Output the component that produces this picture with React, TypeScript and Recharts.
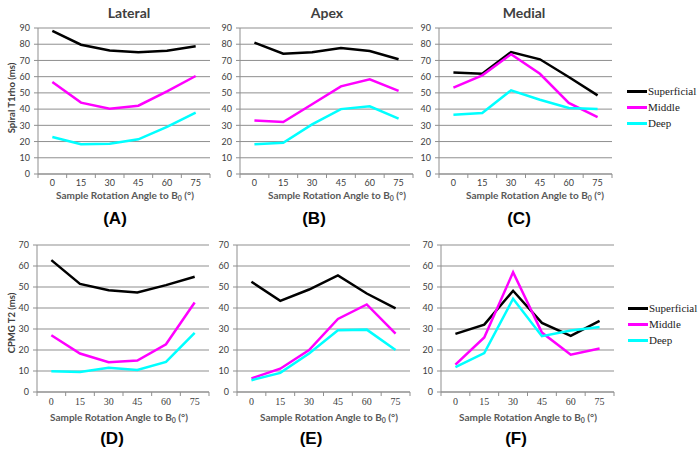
import React from 'react';
import { LineChart, Line, XAxis, YAxis, CartesianGrid } from 'recharts';

const angles = ['0', '15', '30', '45', '60', '75'];
const seriesNames = ['Superficial', 'Middle', 'Deep'];
const seriesColors = ['#000000', '#ff00ff', '#00ffff'];

const t1Ticks = [0, 10, 20, 30, 40, 50, 60, 70, 80, 90];
const t2Ticks = [0, 10, 20, 30, 40, 50, 60, 70];

// Spiral T1rho (ms)
const lateralT1Sup = [88.3, 79.7, 76.2, 75.0, 76.0, 78.7];
const lateralT1Mid = [56.7, 44.0, 40.3, 42.1, 51.0, 60.4];
const lateralT1Deep = [22.8, 18.3, 18.7, 21.4, 29.0, 37.8];

const apexT1Sup = [81.0, 74.2, 75.0, 77.7, 75.8, 70.7];
const apexT1Mid = [33.0, 32.0, 43.0, 54.0, 58.4, 51.2];
const apexT1Deep = [18.3, 19.3, 30.6, 40.0, 41.7, 34.1];

const medialT1Sup = [62.5, 61.8, 75.2, 70.7, 59.8, 48.5];
const medialT1Mid = [53.2, 60.8, 73.8, 61.8, 43.8, 35.1];
const medialT1Deep = [36.6, 37.6, 51.6, 45.8, 40.7, 40.0];

// CPMG T2 (ms)
const lateralT2Sup = [62.8, 51.5, 48.5, 47.4, 50.9, 54.9];
const lateralT2Mid = [27.0, 18.3, 14.2, 15.0, 22.7, 42.6];
const lateralT2Deep = [9.9, 9.5, 11.5, 10.5, 14.3, 28.2];

const apexT2Sup = [52.5, 43.4, 48.8, 55.5, 46.9, 39.8];
const apexT2Mid = [6.5, 11.1, 20.0, 34.8, 41.7, 27.8];
const apexT2Deep = [5.6, 9.1, 18.3, 29.4, 29.7, 20.0];

const medialT2Sup = [27.7, 32.1, 48.2, 32.9, 26.7, 33.9];
const medialT2Mid = [13.0, 26.0, 57.0, 28.3, 17.8, 20.7];
const medialT2Deep = [11.8, 18.5, 44.4, 26.6, 29.3, 31.0];

const makeRows = (sup: number[], mid: number[], deep: number[]) =>
  angles.map((a, i) => ({ angle: a, Superficial: sup[i], Middle: mid[i], Deep: deep[i] }));

const sansFont = 'Lato, "Liberation Sans", sans-serif';
const serifFont = '"Times New Roman", "Liberation Serif", serif';
const gridColor = '#8f8f8f';
const tickColor = '#404040';

const Y_AXIS_W = 30;
const PAD_L = 10;
const PAD_T = 10;
const PAD_R = 20;
const X_AXIS_H = 30;

interface PanelProps {
  rows: { angle: string; Superficial: number; Middle: number; Deep: number }[];
  box: [number, number, number, number]; // x0, x1, y0, y1 of the plot area
  ticks: number[];
  serifX?: boolean;
}

const Panel: React.FC<PanelProps> = ({ rows, box, ticks, serifX }) => {
  const [x0, x1, y0, y1] = box;
  const plotW = x1 - x0;
  const plotH = y1 - y0;
  const w = plotW + PAD_L + Y_AXIS_W + PAD_R;
  const h = plotH + PAD_T + X_AXIS_H;
  const band = plotW / angles.length;

  // excel-style category ticks: marks between categories, label in the middle
  const CatTick = (props: any) => {
    const { x, y, payload, index } = props;
    const axisY = PAD_T + plotH;
    return (
      <g>
        <line x1={x - band / 2} x2={x - band / 2} y1={axisY} y2={axisY + 4} stroke={gridColor} />
        {index === angles.length - 1 && (
          <line x1={x + band / 2} x2={x + band / 2} y1={axisY} y2={axisY + 4} stroke={gridColor} />
        )}
        <text
          x={x}
          y={y}
          dy="0.71em"
          textAnchor="middle"
          fill={tickColor}
          fontSize={serifX ? 10 : 9}
          fontFamily={serifX ? serifFont : sansFont}
        >
          {payload.value}
        </text>
      </g>
    );
  };

  return (
    <div style={{ position: 'absolute', left: x0 - PAD_L - Y_AXIS_W, top: y0 - PAD_T }}>
      <LineChart
        width={w}
        height={h}
        data={rows}
        margin={{ top: PAD_T, right: PAD_R, left: PAD_L, bottom: 0 }}
      >
        <CartesianGrid horizontal vertical={false} stroke={gridColor} strokeWidth={1} />
        <XAxis
          dataKey="angle"
          height={X_AXIS_H}
          padding={{ left: band / 2, right: band / 2 }}
          stroke={gridColor}
          tickLine={false}
          tickSize={4}
          tickMargin={2}
          interval={0}
          tick={<CatTick />}
        />
        <YAxis
          width={Y_AXIS_W}
          type="number"
          domain={[ticks[0], ticks[ticks.length - 1]]}
          ticks={ticks}
          interval={0}
          stroke={gridColor}
          tickSize={4}
          tickMargin={4}
          tick={{ fill: tickColor, fontSize: 9, fontFamily: sansFont }}
        />
        {seriesNames.map((name, i) => (
          <Line
            key={name}
            type="linear"
            dataKey={name}
            stroke={seriesColors[i]}
            strokeWidth={2.5}
            dot={false}
            isAnimationActive={false}
          />
        ))}
      </LineChart>
    </div>
  );
};

const CenterText: React.FC<{ x: number; y: number; style?: React.CSSProperties; children: React.ReactNode }> = ({
  x,
  y,
  style,
  children,
}) => (
  <div
    style={{
      position: 'absolute',
      left: x,
      top: y,
      transform: 'translate(-50%, -50%)',
      whiteSpace: 'nowrap',
      lineHeight: 1,
      ...style,
    }}
  >
    {children}
  </div>
);

const titleStyle: React.CSSProperties = { fontFamily: sansFont, fontWeight: 700, fontSize: 14, color: '#404040' };
const axisTitleStyle: React.CSSProperties = { fontFamily: sansFont, fontWeight: 700, fontSize: 10, color: '#595959' };
const yTitleStyle: React.CSSProperties = {
  ...axisTitleStyle,
  fontSize: 9.5,
  color: '#404040',
  transform: 'translate(-50%, -50%) rotate(-90deg)',
};
const letterStyle: React.CSSProperties = {
  fontFamily: '"Liberation Sans", Arial, sans-serif',
  fontWeight: 700,
  fontSize: 17,
  color: '#000',
};

const AxisTitle = () => (
  <span>
    Sample Rotation Angle to B<sub style={{ fontSize: 7, verticalAlign: -2 }}>0</sub> (°)
  </span>
);

const LegendBox: React.FC<{ x: number; y: number }> = ({ x, y }) => (
  <div style={{ position: 'absolute', left: x, top: y }}>
    {seriesNames.map((name, i) => (
      <div key={name} style={{ display: 'flex', alignItems: 'center', height: 16 }}>
        <div style={{ width: 20, height: 3, background: seriesColors[i] }} />
        <span style={{ fontFamily: serifFont, fontSize: 11, color: '#222', marginLeft: 1 }}>{name}</span>
      </div>
    ))}
  </div>
);

export default function App() {
  return (
    <div
      style={{
        position: 'absolute',
        left: 0,
        top: 0,
        width: 698,
        height: 454,
        background: '#fff',
        overflow: 'hidden',
      }}
    >
      <Panel rows={makeRows(lateralT1Sup, lateralT1Mid, lateralT1Deep)} box={[38, 210, 28, 174]} ticks={t1Ticks} />
      <Panel rows={makeRows(apexT1Sup, apexT1Mid, apexT1Deep)} box={[240, 413, 28, 174]} ticks={t1Ticks} />
      <Panel rows={makeRows(medialT1Sup, medialT1Mid, medialT1Deep)} box={[439, 612, 28, 174]} ticks={t1Ticks} />
      <Panel rows={makeRows(lateralT2Sup, lateralT2Mid, lateralT2Deep)} box={[37, 209, 245, 392]} ticks={t2Ticks} serifX />
      <Panel rows={makeRows(apexT2Sup, apexT2Mid, apexT2Deep)} box={[237, 410, 245, 392]} ticks={t2Ticks} serifX />
      <Panel rows={makeRows(medialT2Sup, medialT2Mid, medialT2Deep)} box={[441, 614, 245, 392]} ticks={t2Ticks} serifX />

      {/* column titles */}
      <CenterText x={129} y={13} style={titleStyle}>Lateral</CenterText>
      <CenterText x={327} y={13} style={titleStyle}>Apex</CenterText>
      <CenterText x={524} y={13} style={titleStyle}>Medial</CenterText>

      {/* y axis titles */}
      <CenterText x={12} y={98} style={yTitleStyle}>Spiral T1rho (ms)</CenterText>
      <CenterText x={12} y={323} style={yTitleStyle}>CPMG T2 (ms)</CenterText>

      {/* x axis titles */}
      <CenterText x={125} y={196} style={axisTitleStyle}><AxisTitle /></CenterText>
      <CenterText x={337} y={196} style={axisTitleStyle}><AxisTitle /></CenterText>
      <CenterText x={535} y={196} style={axisTitleStyle}><AxisTitle /></CenterText>
      <CenterText x={119} y={418} style={axisTitleStyle}><AxisTitle /></CenterText>
      <CenterText x={329} y={418} style={axisTitleStyle}><AxisTitle /></CenterText>
      <CenterText x={528} y={418} style={axisTitleStyle}><AxisTitle /></CenterText>

      {/* panel letters */}
      <CenterText x={115} y={218} style={letterStyle}>(A)</CenterText>
      <CenterText x={314} y={218} style={letterStyle}>(B)</CenterText>
      <CenterText x={519} y={218} style={letterStyle}>(C)</CenterText>
      <CenterText x={112} y={438} style={letterStyle}>(D)</CenterText>
      <CenterText x={311} y={438} style={letterStyle}>(E)</CenterText>
      <CenterText x={516} y={438} style={letterStyle}>(F)</CenterText>

      <LegendBox x={627} y={83} />
      <LegendBox x={628} y={300} />
    </div>
  );
}
